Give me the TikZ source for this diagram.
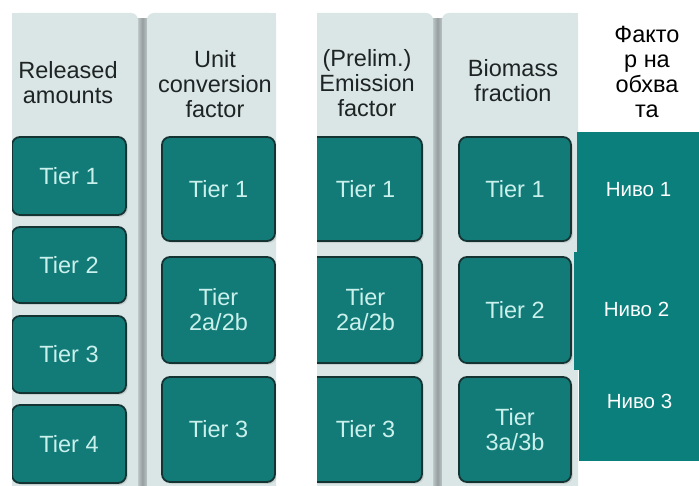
\documentclass[tikz,border=0pt]{standalone}
\usepackage{fontspec}
\setmainfont{Liberation Sans}
\usetikzlibrary{shadows}

\definecolor{panelbg}{HTML}{DAE6E5}
\definecolor{divgray}{HTML}{979EA0}
\definecolor{tealbox}{HTML}{127B78}
\definecolor{tealblock}{HTML}{0B7F7B}
\definecolor{boxline}{HTML}{143434}
\definecolor{boxtext}{HTML}{CAF0EC}
\definecolor{headtext}{HTML}{1E2424}

\newcommand{\bigtxt}{\fontsize{23.5}{25}\selectfont}
\newcommand{\lvltxt}{\fontsize{20.5}{24}\selectfont}

\begin{document}
\begin{tikzpicture}[x=1pt, y=-1pt,
  tierbox/.style={draw=boxline, line width=1.8pt, fill=tealbox,
    rounded corners=8pt, text=boxtext, font=\bigtxt, align=center,
    inner sep=0pt,
    drop shadow={shadow xshift=1.8pt, shadow yshift=-1.8pt, opacity=0.22}},
  head/.style={font=\bigtxt, align=center, text=headtext, inner sep=0pt},
  level/.style={font=\lvltxt, text=white, inner sep=0pt},
  divider/.style={left color=panelbg, right color=panelbg, middle color=divgray},
  panel/.style={fill=panelbg, rounded corners=7pt}]

\useasboundingbox (0,0) rectangle (699,486);
\fill[white] (0,0) rectangle (699,486);

% ---------- first pair of columns ----------
\begin{scope}
  \clip (12,13) rectangle (276,486);
  \shade[divider] (134,19) rectangle (151,486);
  \fill[panel] (12,13) rectangle (138,500);
  \fill[panelbg] (12,13) rectangle (40,40);
  \fill[panel] (147,13) rectangle (276,500);
  \fill[panelbg] (250,13) rectangle (276,40);

  \node[head] (hrel) at (68,82.5) {Released\\amounts};
  \node[head] (hunit) at (215,84) {Unit\\conversion\\factor};

  \node[tierbox, minimum width=114pt, minimum height=78pt] (r1) at (69,176) {Tier 1};
  \node[tierbox, minimum width=114pt, minimum height=76pt] (r2) at (69,265) {Tier 2};
  \node[tierbox, minimum width=114pt, minimum height=77pt] (r3) at (69,354.5) {Tier 3};
  \node[tierbox, minimum width=114pt, minimum height=78pt] (r4) at (69,444) {Tier 4};

  \node[tierbox, minimum width=113pt, minimum height=104pt] (u1) at (218.5,189) {Tier 1};
  \node[tierbox, minimum width=113pt, minimum height=106pt] (u2) at (218.5,310) {Tier\\2a/2b};
  \node[tierbox, minimum width=113pt, minimum height=105pt] (u3) at (218.5,429.5) {Tier 3};
\end{scope}

% ---------- second pair of columns ----------
\begin{scope}
  \clip (317,13) rectangle (578,486);
  \shade[divider] (429,19) rectangle (446,486);
  \fill[panel] (300,13) rectangle (433,500);
  \fill[panel] (442,13) rectangle (578,500);
  \fill[panelbg] (552,13) rectangle (578,40);

  \node[head] (hemis) at (367,83) {(Prelim.)\\Emission\\factor};
  \node[head] (hbio) at (513,81) {Biomass\\fraction};

  \node[tierbox, minimum width=113pt, minimum height=104pt] (e1) at (365.5,189) {Tier 1};
  \node[tierbox, minimum width=113pt, minimum height=106pt] (e2) at (365.5,310) {Tier\\2a/2b};
  \node[tierbox, minimum width=113pt, minimum height=105pt] (e3) at (365.5,429.5) {Tier 3};

  \node[tierbox, minimum width=112pt, minimum height=104pt] (b1) at (515,189) {Tier 1};
  \node[tierbox, minimum width=112pt, minimum height=106pt] (b2) at (515,310) {Tier 2};
  \node[tierbox, minimum width=112pt, minimum height=105pt] (b3) at (515,429.5) {Tier\\3a/3b};
\end{scope}

% ---------- coverage factor column ----------
\fill[tealblock] (577,132) rectangle (699,252);
\fill[tealblock] (574,252) rectangle (699,370);
\fill[tealblock] (579,370) rectangle (699,461);

\node[head, text=black] (hcov) at (647,72) {Факто\\р на\\обхва\\та};
\node[level] (n1) at (638.5,190) {Ниво 1};
\node[level] (n2) at (636.5,309.5) {Ниво 2};
\node[level] (n3) at (639.5,401.5) {Ниво 3};

\end{tikzpicture}
\end{document}
